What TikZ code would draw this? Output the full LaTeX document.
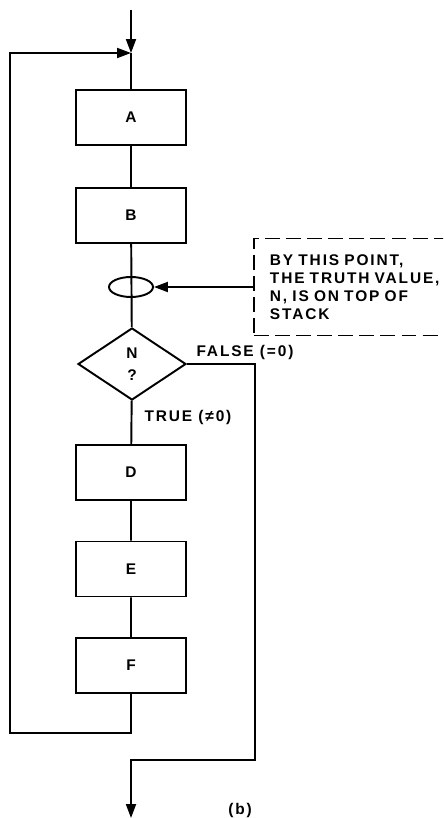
\documentclass[tikz,border=0pt]{standalone}
\usepackage{fontspec}
\setmainfont{Liberation Sans}[LetterSpace=12]
\usetikzlibrary{shapes.geometric,arrows.meta,positioning}

\tikzset{
  blk/.style={draw, minimum width=2.2cm, minimum height=1.1cm, inner sep=0pt},
  arr/.style={-{Triangle[length=2.8mm,width=2mm]}},
  lbl/.style={font=\fontsize{8.8}{10.2}\selectfont\bfseries},
}

\begin{document}
\begin{tikzpicture}[x=0.02cm,y=-0.02cm,line width=1.1pt,lbl]
      \useasboundingbox (0,0) rectangle (443,818);
      \clip (0,0) rectangle (443,818);
      \coordinate (top) at (131,10);
      \coordinate (J) at (131,53);
      \coordinate (L1) at (10,53);
      \coordinate (L2) at (10,733);
      \coordinate (L3) at (131,733);
      \coordinate (R1) at (255,364);
      \coordinate (R2) at (255,760);
      \coordinate (R3) at (131,760);
      \coordinate (out) at (131,818);

      \node[blk] (A) at (131,117.5) {A};
      \node[blk] (B) at (131,215.5) {B};
      \node[draw, ellipse, minimum width=0.88cm, minimum height=0.4cm, inner sep=0pt] (S) at (131,287) {};
      \node[draw, diamond, minimum width=2.16cm, minimum height=1.44cm, inner sep=0pt, align=center] (N) at (132,364) {N\\[2pt]?};
      \node[blk] (D) at (131,472.5) {D};
      \node[blk] (E) at (131,569) {E};
      \node[blk] (F) at (131,665.5) {F};

      \node[draw, dash pattern=on 8.5pt off 3.5pt, anchor=west, minimum height=1.94cm, text width=3.5cm, inner xsep=0.32cm, align=left] (T) at (253,287) {BY THIS POINT,\\THE TRUTH VALUE,\\N, IS ON TOP OF\\STACK};

      \draw[arr] (top) -- (J);
      \draw[arr] (F) -- (L3) -- (L2) -- (L1) -- (J);
      \draw (J) -- (A) (A) -- (B) (B) -- (N) (N) -- (D) (D) -- (E) (E) -- (F);
      \draw[arr] (T) -- (S);
      \draw[arr] (N.east) -- (R1) -- (R2) -- (R3) -- (out);

      \node (fl) at (245,352) {FALSE (=0)};
      \node (tl) at (188,417) {TRUE (≠0)};
      \node (cap) at (240,810) {(b)};
    \end{tikzpicture}
\end{document}
